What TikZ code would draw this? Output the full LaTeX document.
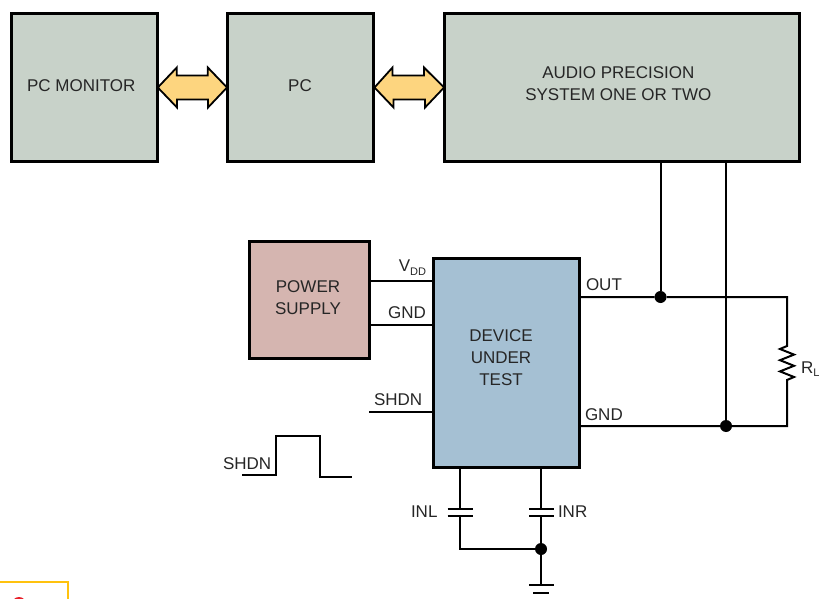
\documentclass[tikz,border=0pt]{standalone}
\usepackage{fontspec}
\setmainfont{Liberation Sans}
\definecolor{boxgreen}{HTML}{C8D2C9}
\definecolor{boxpink}{HTML}{D5B5B0}
\definecolor{boxblue}{HTML}{A5C0D3}
\definecolor{arrowfill}{HTML}{FDD57F}
\definecolor{cornerbox}{HTML}{FFC20E}
\definecolor{cornerdot}{HTML}{E8202A}
\newcommand{\twolines}[3]{\rule[-#1]{0pt}{0pt}\begin{tabular}{@{}c@{}}#2\\#3\end{tabular}}
\newcommand{\subtext}[1]{\raisebox{-3.5pt}{\fontsize{11}{12}\selectfont #1}}
\tikzset{
  lab/.style={font=\fontsize{17}{22}\selectfont, text=black!85, inner sep=0pt, outer sep=0pt},
  blockbox/.style={lab, draw=black, line width=3pt, outer sep=0pt, align=center},
  wire/.style={draw=black, line width=2pt},
  fatarrow/.style={draw=black, line width=1.8pt, fill=arrowfill, line join=miter},
  junction/.style={circle, fill=black, inner sep=0pt, minimum size=12pt, outer sep=0pt},
  plate/.style={draw=black, line width=2pt},
}
\begin{document}
\begin{tikzpicture}[x=1pt,y=-1pt]
\useasboundingbox (0,0) rectangle (819,599);
% blocks
\node[blockbox, fill=boxgreen, minimum width=146pt, minimum height=147pt] (mon) at (84.8,87.5) {\hspace*{-7pt}\raisebox{3pt}{PC MONITOR}};
\node[blockbox, fill=boxgreen, minimum width=146pt, minimum height=147pt] (pc) at (300,87.5) {\raisebox{3pt}{PC}};
\node[blockbox, fill=boxgreen, minimum width=355.5pt, minimum height=147pt] (ap) at (621.8,87.5) {\hspace*{-7pt}\twolines{22pt}{AUDIO PRECISION}{SYSTEM ONE OR TWO}};
\node[blockbox, fill=boxpink, minimum width=120pt, minimum height=117pt] (psu) at (309,299.5) {\hspace*{-2pt}\twolines{0pt}{POWER}{SUPPLY}};
\node[blockbox, fill=boxblue, minimum width=146pt, minimum height=209pt] (dut) at (506,362.5) {};
\node[lab, align=center] (dutlab) at (501,357.5) {DEVICE\\UNDER\\TEST};
% double arrows
\draw[fatarrow] (mon.east) -- ++(19,-20) -- ++(0,8) -- ++(31,0) -- ++(0,-8) -- (pc.west)
  -- ++(-19,20) -- ++(0,-8) -- ++(-31,0) -- ++(0,8) -- cycle;
\draw[fatarrow] ([xshift=1.5pt]pc.east) -- ++(18,-20) -- ++(0,8) -- ++(31.5,0) -- ++(0,-8) -- (ap.west)
  -- ++(-19,20) -- ++(0,-8) -- ++(-31.5,0) -- ++(0,8) -- cycle;
% junctions and free ends
\node[junction] (jout) at (660.5,297) {};
\node[junction] (jgnd) at (726,426) {};
\node[junction] (jcap) at (541,549) {};
\coordinate (apa) at (660.5,161);
\coordinate (apb) at (726,161);
\coordinate (outl) at (579,297);
\coordinate (gndl) at (579,426);
\coordinate (rc) at (787,297);
\coordinate (rd) at (787,426);
\coordinate (rtop) at (787,346);
\coordinate (rbot) at (787,380);
% wires
\draw[wire] (apa) -- (jout);
\draw[wire] (apb) -- (jgnd);
\draw[wire] (outl) -- (jout) -- (rc) -- (rtop)
  -- ++(-7,3) -- ++(14,5.6) -- ++(-14,5.6) -- ++(14,5.6) -- ++(-14,5.6) -- ++(14,5.6) -- (rbot) -- (rd) -- (jgnd) -- (gndl);
\coordinate (vl) at (369,281); \coordinate (vr) at (433,281);
\coordinate (gl) at (369,325); \coordinate (gr) at (433,325);
\coordinate (sl) at (369,412); \coordinate (sr) at (433,412);
\draw[wire] (vl) -- (vr);
\draw[wire] (gl) -- (gr);
\draw[wire] (sl) -- (sr);
% pulse
\coordinate (p0) at (242,475);
\coordinate (p1) at (352,476.5);
\draw[wire] (p0) -- (276,475) -- (276,436) -- (320,436) -- (320,476.5) -- (p1);
% capacitors
\coordinate (cla) at (460,467); \coordinate (clb) at (460,509);
\coordinate (clc) at (460,516); \coordinate (cld) at (460,549);
\coordinate (cra) at (541,467); \coordinate (crb) at (541,509);
\coordinate (crc) at (541,516);
\coordinate (g1) at (541,584.5);
\draw[wire] (cla) -- (clb);
\draw[wire] (clc) -- (cld) -- (jcap);
\draw[wire] (cra) -- (crb);
\draw[wire] (crc) -- (jcap) -- (g1);
\draw[plate] (447.5,509) -- (472.5,509);
\draw[plate] (447.5,516) -- (472.5,516);
\draw[plate] (529,509) -- (553.5,509);
\draw[plate] (529,516) -- (553.5,516);
\draw[plate] (529,584.5) -- (553.5,584.5);
\draw[plate] (533,592.5) -- (549,592.5);
% labels
\node[lab, anchor=base east] (lvdd) at (426,271.5) {V\subtext{DD}};
\node[lab, anchor=base east] (lgnd) at (426,318.5) {GND};
\node[lab, anchor=base west] (lshdn) at (374,405) {SHDN};
\node[lab, anchor=base west] (lpulse) at (223,469.5) {SHDN};
\node[lab, anchor=base west] (lout) at (586,290) {OUT};
\node[lab, anchor=base west] (lgnd2) at (585,420.5) {GND};
\node[lab, anchor=base west] (linl) at (411,517) {INL};
\node[lab, anchor=base west] (linr) at (558,517) {INR};
\node[lab, anchor=base west] (lrl) at (801,373) {R\subtext{L}};
% corner fragment
\draw[draw=cornerbox, line width=2pt] (0,581.5) -- (68,581.5) -- (68,599);
\begin{scope}
\clip (0,597) rectangle (819,599);
\fill[cornerdot] (19,604) circle (7pt);
\end{scope}
\end{tikzpicture}
\end{document}
